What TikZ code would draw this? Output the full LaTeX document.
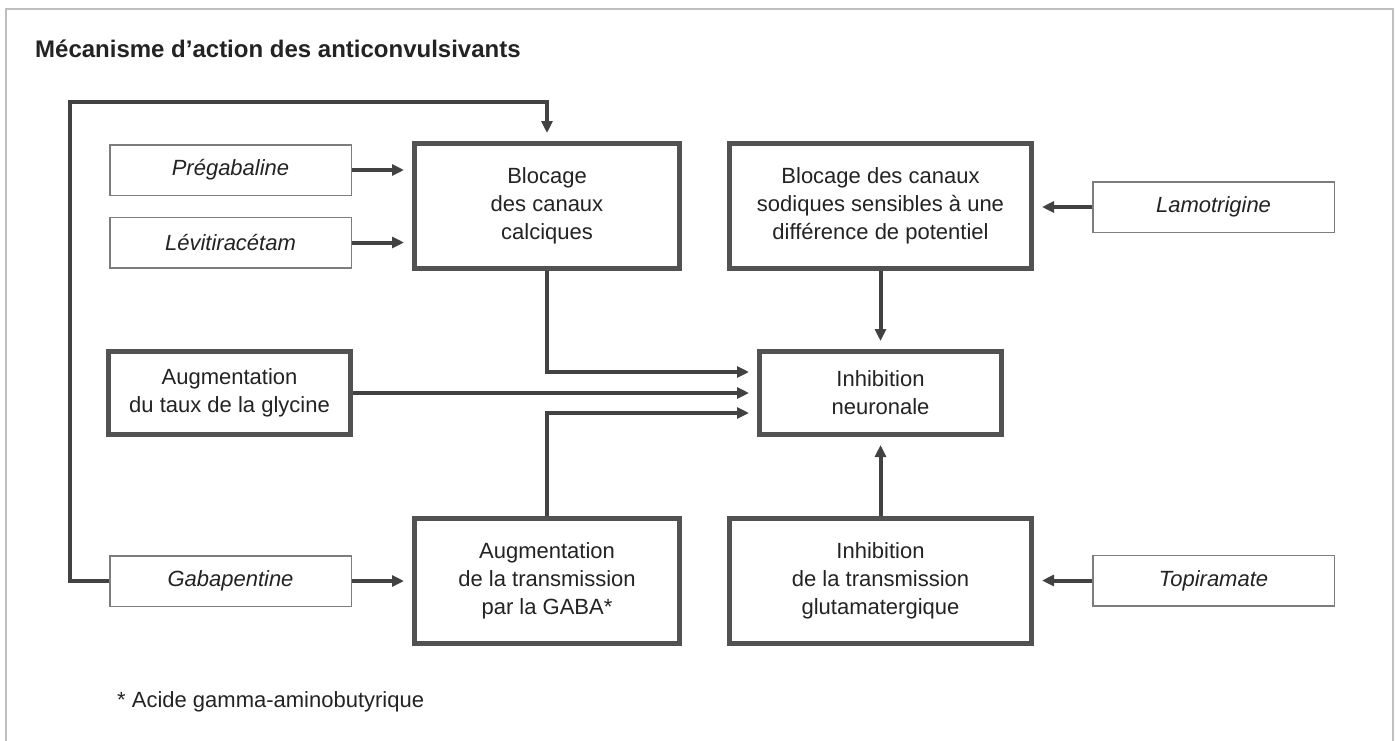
\documentclass[tikz,border=0pt]{standalone}
\usepackage{fontspec}
\setmainfont{Liberation Sans}
\usetikzlibrary{arrows.meta,positioning}
\definecolor{ink}{RGB}{35,35,35}
\definecolor{edge}{RGB}{82,82,82}
\definecolor{wire}{RGB}{66,66,66}
\definecolor{thin}{RGB}{125,125,125}
\definecolor{frame}{RGB}{190,190,190}
\tikzset{
  mech/.style={draw=edge, line width=5pt, fill=white, align=center, text=ink,
               font=\fontsize{22}{28}\selectfont, minimum width=265pt,
               minimum height=125pt, inner sep=2pt},
  wide/.style={mech, minimum width=302pt},
  flat/.style={mech, minimum width=242pt, minimum height=83pt},
  drug/.style={draw=thin, line width=1.5pt, fill=white, text=ink,
               font=\fontsize{22}{28}\selectfont\itshape,
               minimum width=241.5pt, minimum height=50.5pt, inner sep=2pt},
  flow/.style={-{Triangle[length=12pt,width=11pt]}, wire, line width=4pt, shorten >=8pt},
}
\begin{document}
\begin{tikzpicture}[x=1pt,y=-1pt]
    \useasboundingbox (0,0) rectangle (1399,740);
    \draw[frame,line width=2pt] (6,760) -- (6,9) -- (1393,9) -- (1393,760);
    \node[font=\fontsize{24}{28}\selectfont\bfseries,text=ink,anchor=base west,inner sep=0pt]
      (title) at (35,57) {Mécanisme d’action des anticonvulsivants};
    % mechanisms
    \node[mech] (calc) at (547,206) {Blocage\\des canaux\\calciques};
    \node[wide] (sod) at (880.5,205.5) {Blocage des canaux\\sodiques sensibles à une\\différence de potentiel};
    \node[flat] (gly) at (229.5,393) {Augmentation\\du taux de la glycine};
    \node[flat] (inh) at (880.5,393) {Inhibition\\neuronale};
    \node[mech] (gaba) at (547,581) {Augmentation\\de la transmission\\par la GABA*};
    \node[wide] (glu) at (880.5,581) {Inhibition\\de la transmission\\glutamatergique};
    % drugs
    \node[drug] (preg) at (230.5,170) {Prégabaline};
    \node[drug] (levi) at (230.5,242.5) {Lévitiracétam};
    \node[drug] (lamo) at (1213.5,207) {Lamotrigine};
    \node[drug] (gab) at (230.5,581) {Gabapentine};
    \node[drug] (topi) at (1213.5,580.5) {Topiramate};
    \coordinate (loop) at (70,102);
    % connectors
    \draw[flow] (preg.east) -- (preg.east -| calc.west);
    \draw[flow] (levi.east) -- (levi.east -| calc.west);
    \draw[flow] (lamo.west) -- (lamo.west -| sod.east);
    \draw[flow] (gab.east) -- (gaba.west);
    \draw[flow] (topi.west) -- (topi.west -| glu.east);
    \draw[flow] (gab.west) -| (loop) -| (calc.north);
    \draw[flow] (sod.south) -- (inh.north);
    \draw[flow] (glu.north) -- (inh.south);
    \draw[flow] (calc.south) |- ([yshift=21pt]inh.west);
    \draw[flow] (gly.east) -- (inh.west);
    \draw[flow] (gaba.north) |- ([yshift=-20pt]inh.west);
    \node[font=\fontsize{22}{28}\selectfont,text=ink,anchor=base west,inner sep=0pt]
      (note) at (117,707) {* Acide gamma-aminobutyrique};
\end{tikzpicture}
\end{document}
